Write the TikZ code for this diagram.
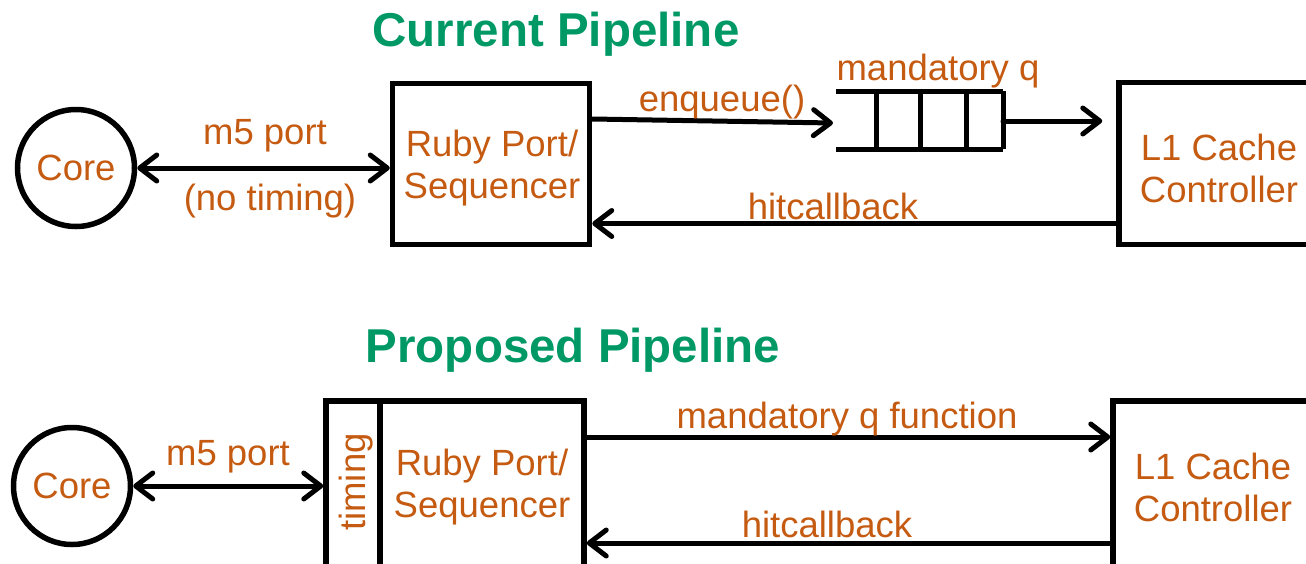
\documentclass[tikz,border=0pt]{standalone}
\usepackage{fontspec}
\setmainfont{Liberation Sans}
\usetikzlibrary{arrows.meta,calc}
\definecolor{titlegreen}{RGB}{0,153,102}
\definecolor{labelorange}{RGB}{197,90,17}
\tikzset{
  title/.style={font=\fontsize{47.5}{50}\selectfont\bfseries, text=titlegreen, inner sep=0pt},
  lbl/.style={font=\fontsize{36.5}{42}\selectfont, text=labelorange, inner sep=0pt, align=center},
  unitbox/.style={draw, line width=5.5pt, rectangle, inner sep=0pt},
  corecircle/.style={draw, line width=5.5pt, circle, inner sep=0pt, minimum size=117pt, font=\fontsize{36.5}{42}\selectfont, text=labelorange},
  tipbarb/.tip={Straight Barb[length=17pt,width=26pt,round]},
  link/.style={line width=5pt, line cap=round, -tipbarb},
  dlink/.style={line width=5pt, line cap=round, tipbarb-tipbarb},
  queueline/.style={line width=5pt},
}
\begin{document}
\begin{tikzpicture}[x=1pt,y=-1pt]
\useasboundingbox (0,0) rectangle (1306,563);
\clip (0,0) rectangle (1306,563);

% ---------------- current pipeline ----------------
\node[title] (t1) at (556,34) {Current Pipeline};

\node[corecircle] (core1) at (76,168) {Core};
\node[unitbox, minimum width=197pt, minimum height=161pt] (ruby1) at (491,164) {};
\node[lbl] (ruby1txt) at (492,168) {Ruby Port/\\Sequencer};
\node[unitbox, minimum width=200pt, minimum height=162pt] (l1a) at (1219,163.5) {};
\node[lbl] (l1atxt) at (1219,168) {L1 Cache\\Controller};

% mandatory queue: open on the left, four slots
\coordinate (qin) at (836,121);
\coordinate (qout) at (1003,121);
\draw[queueline] (836,91) -- (1003,91) (836,149) -- (1003,149);
\foreach \qx in {876,920,966,1003} \draw[queueline] (\qx,91) -- (\qx,149);
\node[lbl] (qlbl) at (938,71) {mandatory q};

\draw[dlink] (core1.east) -- (core1.east -| ruby1.west);
\node[lbl] (m5a) at (265,136) {m5 port};
\node[lbl] (nt) at (270,201) {(no timing)};

\draw[link] ([yshift=45pt]ruby1.east) -- ([xshift=-3pt,yshift=-2pt]qin);
\node[lbl] (enq) at (722,102) {enqueue()};

\draw[link, shorten >=14pt] (qout) -- (qout -| l1a.west);

\draw[link] ([yshift=-60pt]l1a.west) -- ([yshift=-60pt]l1a.west -| ruby1.east);
\node[lbl] (hc1) at (833,206) {hitcallback};

% ---------------- proposed pipeline ----------------
\node[title] (t2) at (573,350) {Proposed Pipeline};

\node[corecircle] (core2) at (72,486) {Core};
\node[unitbox, minimum width=54pt, minimum height=166pt] (timing) at (353,484) {};
\node[lbl, rotate=90] (tlbl) at (356,482) {timing};
\node[unitbox, minimum width=204pt, minimum height=166pt] (ruby2) at (482,484) {};
\node[lbl] (ruby2txt) at (482,487) {Ruby Port/\\Sequencer};
\node[unitbox, minimum width=200pt, minimum height=166pt] (l1b) at (1213,484) {};
\node[lbl] (l1btxt) at (1213,487) {L1 Cache\\Controller};

\draw[dlink] (core2.east) -- (core2.east -| timing.west);
\node[lbl] (m5b) at (228,457) {m5 port};

\draw[link] ([yshift=47pt]ruby2.east) -- ([yshift=47pt]ruby2.east -| l1b.west);
\node[lbl] (mqf) at (847,419) {mandatory q function};

\draw[link] ([yshift=-59pt]l1b.west) -- ([yshift=-59pt]l1b.west -| ruby2.east);
\node[lbl] (hc2) at (827,524) {hitcallback};
\end{tikzpicture}
\end{document}
